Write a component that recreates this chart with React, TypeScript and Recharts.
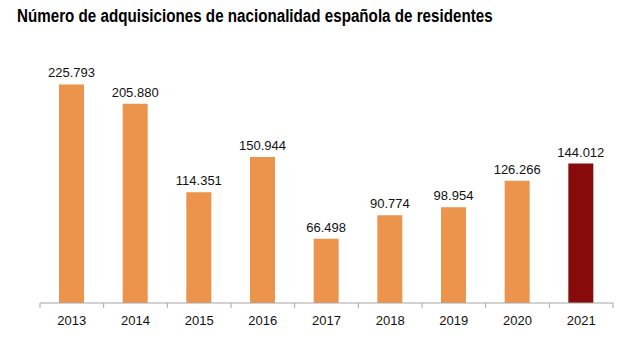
import { BarChart, Bar, XAxis, YAxis, Cell, LabelList } from 'recharts';

const years = ['2013', '2014', '2015', '2016', '2017', '2018', '2019', '2020', '2021'];
const acquisitions = [225793, 205880, 114351, 150944, 66498, 90774, 98954, 126266, 144012];
const barColors = ['#EC944B', '#EC944B', '#EC944B', '#EC944B', '#EC944B', '#EC944B', '#EC944B', '#EC944B', '#880B0B'];

const data = years.map((year, i) => ({ year, value: acquisitions[i] }));

const fmt = (v: number) => String(v).replace(/\B(?=(\d{3})+(?!\d))/g, '.');

const W = 632;
const H = 356;
const margin = { top: 61, right: 19, left: 40, bottom: 23 };
const band = (W - margin.left - margin.right) / years.length;

function YearTick(props: any) {
  const { x, y, payload, index } = props;
  return (
    <g>
      <line x1={x - band / 2} x2={x - band / 2} y1={y - 8} y2={y - 3} stroke="#a6a6a6" />
      {index === years.length - 1 && (
        <line x1={x + band / 2} x2={x + band / 2} y1={y - 8} y2={y - 3} stroke="#a6a6a6" />
      )}
      <text x={x} y={y + 14} textAnchor="middle" fontSize={13} fill="#111">
        {payload.value}
      </text>
    </g>
  );
}

export default function App() {
  return (
    <div style={{ position: 'absolute', left: 0, top: 0, width: W, height: H, background: '#fff', fontFamily: '"Liberation Sans", Arial, sans-serif' }}>
      <div
        style={{
          position: 'absolute',
          left: 17,
          top: 6,
          fontSize: 18,
          fontWeight: 'bold',
          color: '#000',
          whiteSpace: 'nowrap',
          transform: 'scaleX(0.843)',
          transformOrigin: 'left top',
        }}
      >
        Número de adquisiciones de nacionalidad española de residentes
      </div>
      <BarChart width={W} height={H} data={data} margin={margin}>
        <XAxis
          dataKey="year"
          axisLine={{ stroke: '#a6a6a6' }}
          tickLine={false}
          tick={<YearTick />}
          interval={0}
        />
        <YAxis hide domain={[0, 250000]} />
        <Bar dataKey="value" barSize={25} isAnimationActive={false}>
          {data.map((d, i) => (
            <Cell key={d.year} fill={barColors[i]} />
          ))}
          <LabelList dataKey="value" position="top" offset={7} formatter={(v: any) => fmt(Number(v))} fill="#111" fontSize={13} />
        </Bar>
      </BarChart>
    </div>
  );
}
